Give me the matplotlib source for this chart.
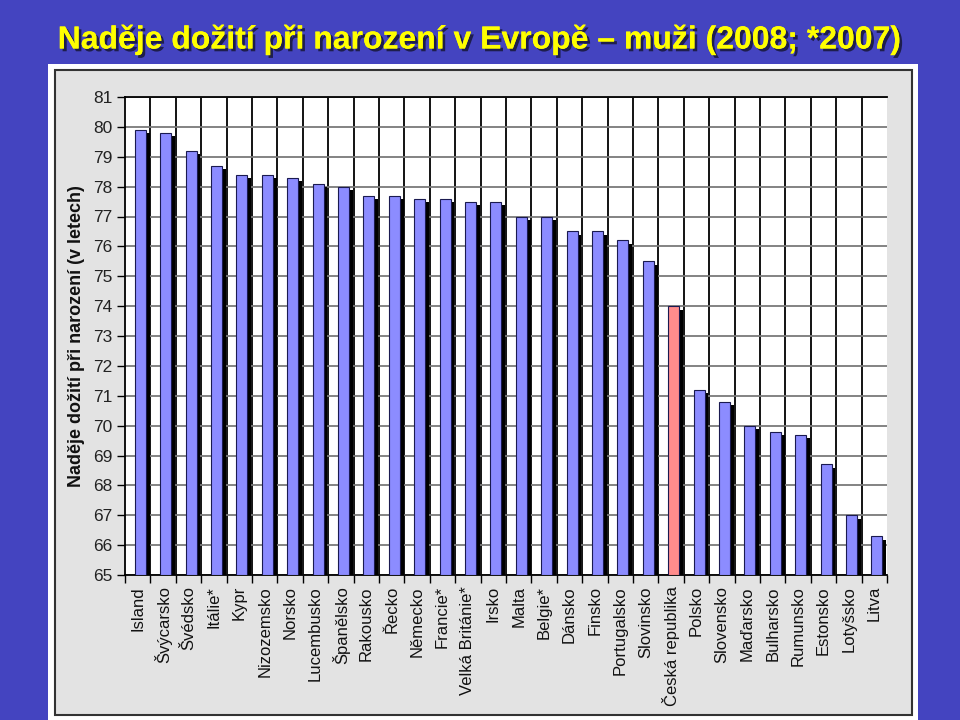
import matplotlib.pyplot as plt
import matplotlib.patheffects as pe
from matplotlib.patches import Rectangle
import numpy as np

countries = ["Island", "Švýcarsko", "Švédsko", "Itálie*", "Kypr", "Nizozemsko", "Norsko",
             "Lucembusko", "Španělsko", "Rakousko", "Řecko", "Německo", "Francie*",
             "Velká Británie*", "Irsko", "Malta", "Belgie*", "Dánsko", "Finsko",
             "Portugalsko", "Slovinsko", "Česká republika", "Polsko", "Slovensko",
             "Maďarsko", "Bulharsko", "Rumunsko", "Estonsko", "Lotyšsko", "Litva"]
values = [79.9, 79.8, 79.2, 78.7, 78.4, 78.4, 78.3, 78.1, 78.0, 77.7, 77.7, 77.6, 77.6,
          77.5, 77.5, 77.0, 77.0, 76.5, 76.5, 76.2, 75.5, 74.0, 71.2, 70.8, 70.0, 69.8,
          69.7, 68.7, 67.0, 66.3]
highlight = "Česká republika"

title = "Naděje dožití při narození v Evropě – muži (2008; *2007)"
ylabel = "Naděje dožití při narození (v letech)"

plt.rcParams['font.family'] = ['Liberation Sans', 'DejaVu Sans']

fig = plt.figure(figsize=(9.6, 7.2), dpi=100)
fig.patch.set_facecolor('#4444c0')

# white outer panel and grey chart panel
fig.patches.append(Rectangle((48 / 960, 0), 870 / 960, 1 - 64 / 720,
                             transform=fig.transFigure, facecolor='white', edgecolor='none', zorder=-2))
fig.patches.append(Rectangle((55 / 960, 5 / 720), 857 / 960, 1 - 70 / 720 - 5 / 720,
                             transform=fig.transFigure, facecolor='#e3e3e3', edgecolor='#333333',
                             linewidth=1.5, zorder=-1))

fig.text(480 / 960, 1 - 40 / 720, title, ha='center', va='center', fontsize=23,
         fontweight='bold', color='#ffff00',
         path_effects=[pe.withSimplePatchShadow(offset=(2, -2), shadow_rgbFace='#1a1a40', alpha=0.9),
                       pe.Normal()])

ax = fig.add_axes([125 / 960, 1 - 575 / 720, 762 / 960, 478 / 720])
ax.set_facecolor('white')

x = np.arange(len(countries))
colors = ['#ff8c8c' if c == highlight else '#8c8cff' for c in countries]
base = 65
heights = np.array(values) - base
# shadow bars
ax.bar(x + 0.25, heights - 0.12, width=0.43, bottom=base, color='black', zorder=2)
ax.bar(x + 0.1, heights, width=0.43, bottom=base, color=colors, edgecolor='#1a1a50',
       linewidth=0.8, zorder=3)

ax.set_xlim(-0.5, len(countries) - 0.5)
ax.set_ylim(65, 81)
ax.set_yticks(np.arange(65, 82, 1))
ax.set_yticklabels([str(v) for v in range(65, 82)], fontsize=12.5, color='#222222')
ax.grid(axis='y', color='#7a7a7a', linewidth=1.3, zorder=1)

ax.set_xticks(x)
ax.set_xticklabels(countries, rotation=90, fontsize=12, color='#111111')
ax.tick_params(axis='x', which='major', length=0, pad=8)
ax.set_xticks(np.arange(-0.5, len(countries), 1), minor=True)
ax.tick_params(axis='x', which='minor', length=6, width=1, color='black', direction='out')
ax.tick_params(axis='y', length=6, width=1, color='black', direction='out', pad=3)
for b in np.arange(0.5, len(countries) - 0.5, 1):
    ax.axvline(b, color='black', linewidth=1.3, zorder=1)

for s in ['top', 'bottom', 'left']:
    ax.spines[s].set_color('black')
    ax.spines[s].set_linewidth(1.3)
ax.spines['right'].set_visible(False)

ax.set_ylabel(ylabel, fontsize=13, fontweight='bold', color='#111111', labelpad=6)

fig.savefig('out.png', dpi=100, facecolor=fig.get_facecolor())
